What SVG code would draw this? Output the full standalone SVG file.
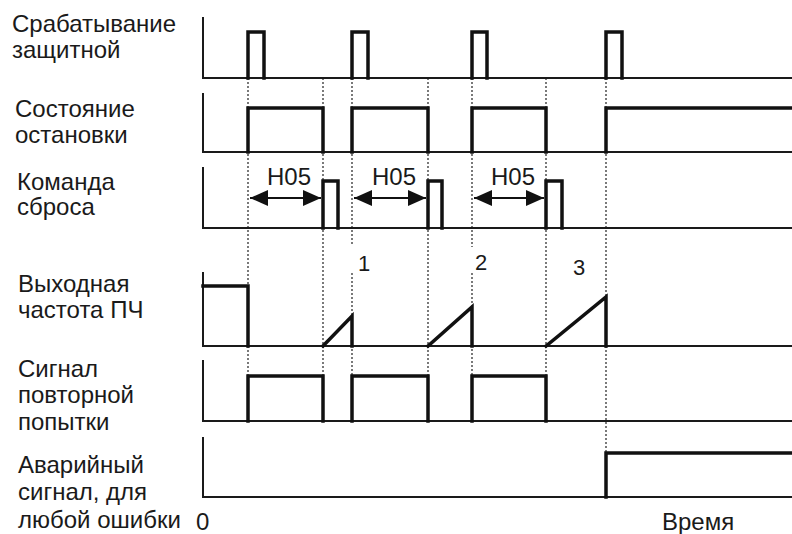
<svg xmlns="http://www.w3.org/2000/svg" width="792" height="534" viewBox="0 0 792 534">
<defs>
<style>
.lbl{font-family:"Liberation Sans",Arial,sans-serif;font-size:24px;fill:#1a1a1a}
.num{font-family:"Liberation Sans",Arial,sans-serif;font-size:22px;fill:#1a1a1a}
.axis{fill:none;stroke:#1a1a1a;stroke-width:2}
.sig{fill:none;stroke:#111;stroke-width:3.5;stroke-linejoin:miter;stroke-linecap:square}
.dash{fill:none;stroke:#333;stroke-width:1.3;stroke-dasharray:2 2}
.arr{fill:none;stroke:#111;stroke-width:2}
</style>
<marker id="ah" viewBox="0 0 18 16" refX="18" refY="8" markerWidth="18" markerHeight="16" markerUnits="userSpaceOnUse" orient="auto-start-reverse">
<path d="M0,0 L18,8 L0,16 Z" fill="#111"/>
</marker>
</defs>
<rect width="792" height="534" fill="#fff"/>

<g id="connectors">
<path class="dash" d="M248,78 V376 M323,78 V376 M352,78 V245 M352,273 V376 M428,78 V376 M472,78 V247 M472,273 V376 M546,78 V376 M606,78 V453"/>
<path class="arr" d="M250,198 H321" marker-start="url(#ah)" marker-end="url(#ah)"/>
<path class="arr" d="M354,198 H426" marker-start="url(#ah)" marker-end="url(#ah)"/>
<path class="arr" d="M474,198 H544" marker-start="url(#ah)" marker-end="url(#ah)"/>
<text class="lbl" x="267" y="185">H05</text>
<text class="lbl" x="372" y="185">H05</text>
<text class="lbl" x="491" y="185">H05</text>
<text class="num" x="358" y="271">1</text>
<text class="num" x="475" y="270">2</text>
<text class="num" x="573" y="275">3</text>
</g>

<g id="protection">
<text class="lbl" x="12" y="32">Срабатывание</text>
<text class="lbl" x="12" y="58">защитной</text>
<path class="axis" d="M203,17 V78 H792"/>
<path class="sig" d="M248,78 V32 H264 V78 M352,78 V32 H368 V78 M472,78 V32 H487 V78 M606,78 V32 H622 V78"/>
</g>

<g id="stop-state">
<text class="lbl" x="15" y="117">Состояние</text>
<text class="lbl" x="15" y="143">остановки</text>
<path class="axis" d="M203,93 V152 H792"/>
<path class="sig" d="M248,152 V108 H323 V152 M352,152 V108 H428 V152 M472,152 V108 H546 V152 M606,152 V108 H792"/>
</g>

<g id="reset-command">
<text class="lbl" x="17" y="190">Команда</text>
<text class="lbl" x="17" y="215">сброса</text>
<path class="axis" d="M203,167 V228 H792"/>
<path class="sig" d="M323,228 V181 H338 V228 M428,228 V181 H442 V228 M546,228 V181 H562 V228"/>
</g>

<g id="output-frequency">
<text class="lbl" x="18" y="292">Выходная</text>
<text class="lbl" x="18" y="318">частота ПЧ</text>
<path class="axis" d="M203,272 V346 H792"/>
<path class="sig" d="M203,286 H248 V346 M323,346 L352,316 V346 M428,346 L472,307 V346 M546,346 L606,297 V346"/>
</g>

<g id="retry-signal">
<text class="lbl" x="18" y="377">Сигнал</text>
<text class="lbl" x="18" y="403">повторной</text>
<text class="lbl" x="18" y="430">попытки</text>
<path class="axis" d="M203,360 V421 H792"/>
<path class="sig" d="M248,421 V376 H323 V421 M352,421 V376 H428 V421 M472,421 V376 H546 V421"/>
</g>

<g id="alarm-signal">
<text class="lbl" x="18" y="473">Аварийный</text>
<text class="lbl" x="18" y="500">сигнал, для</text>
<text class="lbl" x="18" y="528">любой ошибки</text>
<path class="axis" d="M203,437 V497 H792"/>
<path class="sig" d="M606,497 V453 H792"/>
</g>

<g id="time-axis">
<text class="lbl" x="196" y="530">0</text>
<text class="lbl" x="662" y="530">Время</text>
</g>
</svg>
